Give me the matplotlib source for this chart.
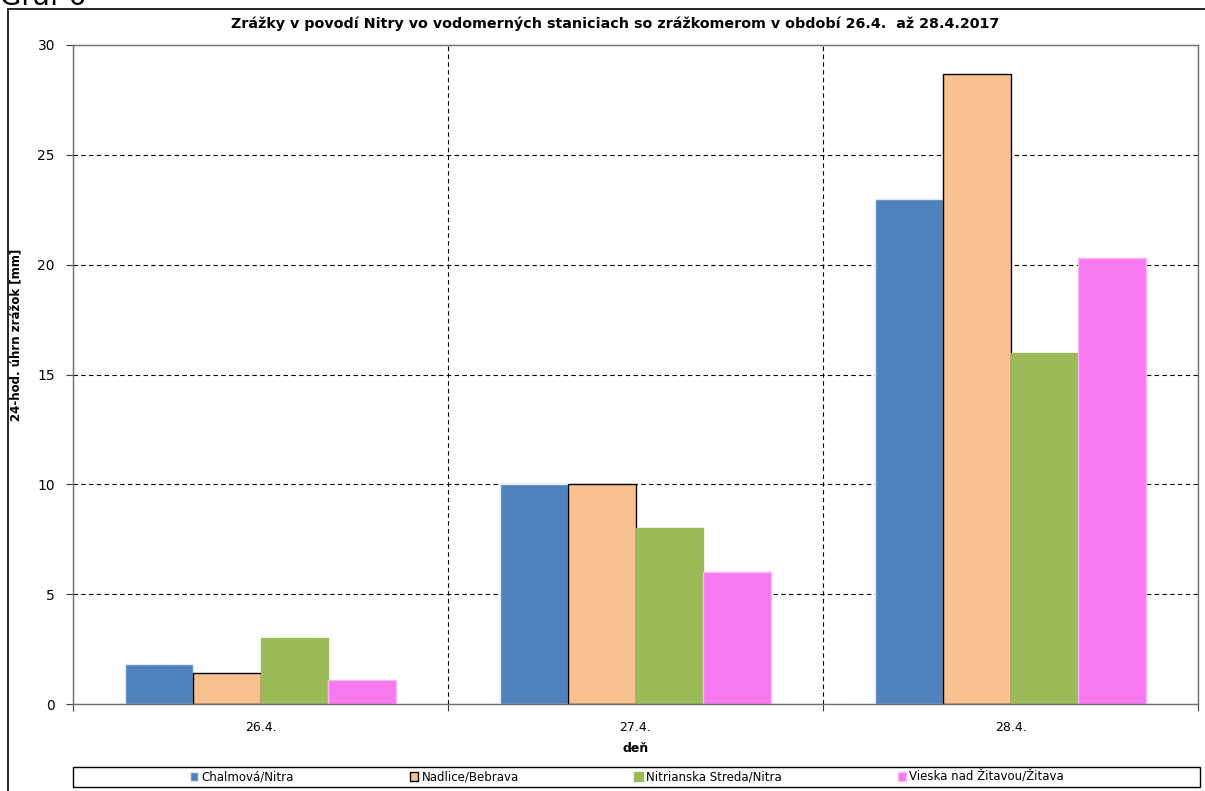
import numpy as np
import matplotlib.pyplot as plt
from matplotlib.patches import Rectangle

# data
days = ["26.4.", "27.4.", "28.4."]
stations = ["Chalmová/Nitra", "Nadlice/Bebrava",
            "Nitrianska Streda/Nitra", "Vieska nad Žitavou/Žitava"]
chalmova = [1.8, 10.0, 23.0]
nadlice = [1.4, 10.0, 28.7]
nitr_streda = [3.0, 8.0, 16.0]
vieska = [1.1, 6.0, 20.3]

colors = ["#4F81BD", "#F9C090", "#9BBB59", "#F779EF"]
edges = ["#dfe8f5", "black", "#9BBB59", "#fbb6f6"]

fig = plt.figure(figsize=(12.05, 7.91), dpi=100)
ax = fig.add_axes([73 / 1205, 87 / 791, 1125 / 1205, 659 / 791])

# outer chart frame and the clipped "Graf 6" caption above it
fig.patches.append(Rectangle((8 / 1205, -0.1), 1.2, (782 / 791) + 0.1,
                             transform=fig.transFigure, fill=False,
                             edgecolor="black", lw=1.2))
fig.text(0.0, 1.004, "Graf 6", fontsize=20, va="center", ha="left")

x = np.arange(len(days))
w = 0.181
series = [chalmova, nadlice, nitr_streda, vieska]
for i, vals in enumerate(series):
    ax.bar(x + (i - 1.5) * w, vals, w, color=colors[i], edgecolor=edges[i],
           linewidth=1.0, label=stations[i], zorder=3)

ax.set_xlim(-0.5, 2.5)
ax.set_ylim(0, 30)
ax.set_yticks(np.arange(0, 31, 5))
ax.set_xticks([-0.5, 0.5, 1.5, 2.5])
ax.set_xticklabels([])
ax.set_xticks(x, minor=True)
ax.set_xticklabels(days, minor=True)
ax.tick_params(axis="x", which="minor", length=0, pad=12, labelsize=9)
ax.tick_params(axis="x", which="major", length=5, direction="out", color="#404040")
ax.tick_params(axis="y", length=5, direction="out", labelsize=10, pad=8, color="#404040")

ax.grid(True, which="major", color="black", linestyle=(0, (4, 3)), lw=0.8, zorder=0)
for s in ax.spines.values():
    s.set_color("#707070")
    s.set_linewidth(1.0)
ax.spines["bottom"].set_zorder(4)

fig.text(615 / 1205, 1 - 24 / 791,
         "Zrážky v povodí Nitry vo vodomerných staniciach so zrážkomerom v období 26.4.  až 28.4.2017",
         fontsize=10.3, fontweight="bold", ha="center", va="center")
ax.set_ylabel("24-hod. úhrn zrážok [mm]", fontsize=8.5, fontweight="bold")
ax.yaxis.set_label_coords(-0.045, 0.56)
ax.set_xlabel("deň", fontsize=9, fontweight="bold", labelpad=6)

# legend box along the bottom
fig.patches.append(Rectangle((73 / 1205, 4 / 791), 1127 / 1205, 20 / 791,
                             transform=fig.transFigure, fill=False,
                             edgecolor="black", lw=1.0))
handles, labels = ax.get_legend_handles_labels()
fig.legend(handles, labels, ncol=4, loc="center",
           bbox_to_anchor=(627 / 1205, 14 / 791), frameon=False, fontsize=8.5,
           handlelength=0.7, handleheight=0.7, handletextpad=0.3,
           columnspacing=9.8)

plt.savefig("out.png", dpi=100)
